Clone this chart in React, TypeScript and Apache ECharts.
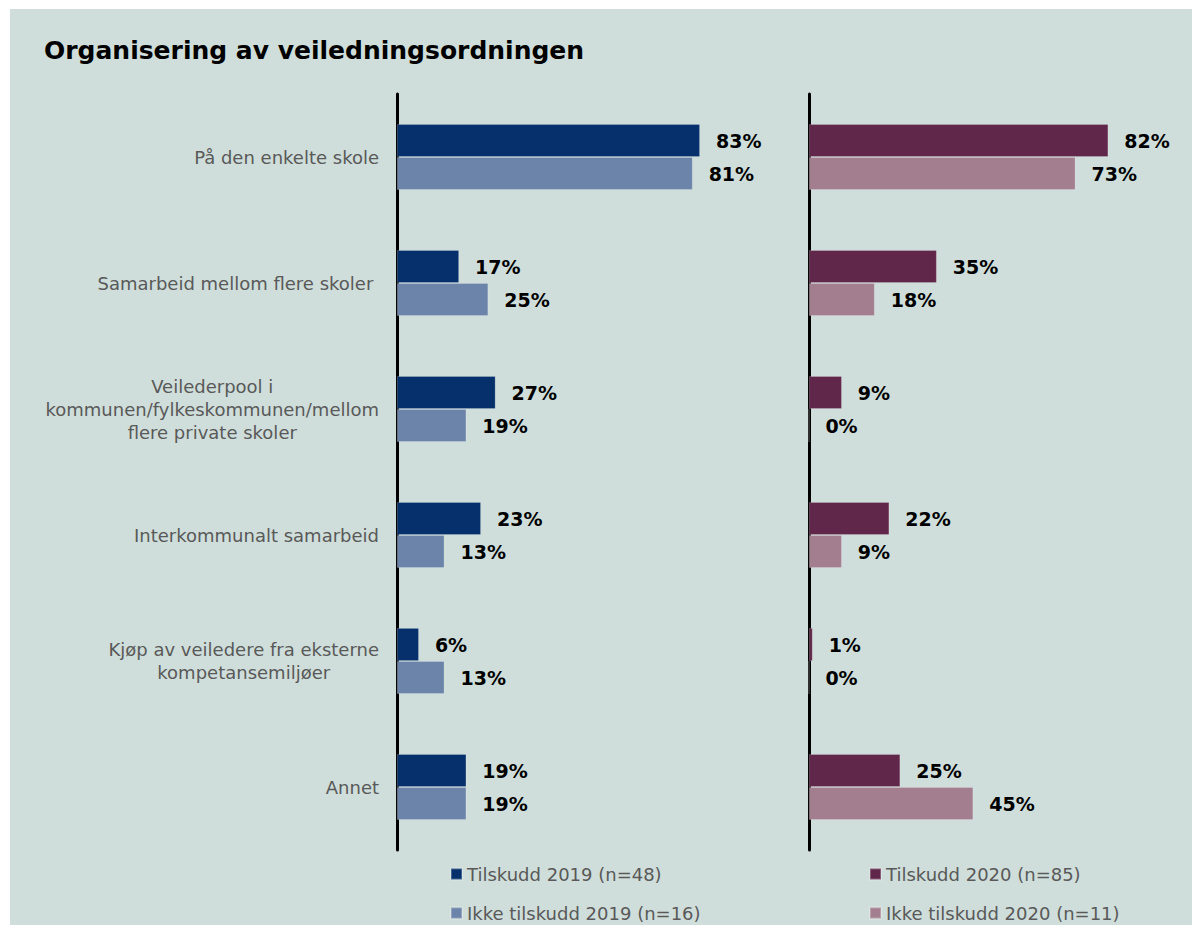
import React, { useEffect, useRef } from "react";
import * as echarts from "echarts";

const categories = [
  "På den enkelte skole",
  "Samarbeid mellom flere skoler ",
  "Veilederpool i\nkommunen/fylkeskommunen/mellom\nflere private skoler",
  "Interkommunalt samarbeid",
  "Kjøp av veiledere fra eksterne\nkompetansemiljøer",
  "Annet",
];
const tilskudd2019 = [83, 17, 27, 23, 6, 19];
const ikkeTilskudd2019 = [81, 25, 19, 13, 13, 19];
const tilskudd2020 = [82, 35, 9, 22, 1, 25];
const ikkeTilskudd2020 = [73, 18, 0, 9, 0, 45];
const seriesNames = [
  "Tilskudd 2019 (n=48)",
  "Ikke tilskudd 2019 (n=16)",
  "Tilskudd 2020 (n=85)",
  "Ikke tilskudd 2020 (n=11)",
];
const title = "Organisering av veiledningsordningen";

const FONT = 'Verdana, "DejaVu Sans", sans-serif';
const colors = ["#05306b", "#6c84a9", "#61274a", "#a27e8f"];

export default function App() {
  const ref = useRef<HTMLDivElement>(null);
  useEffect(() => {
    if (!ref.current) return;
    const chart = echarts.init(ref.current, undefined, { renderer: "svg" });
    const labelCfg = {
      show: true,
      position: "right",
      distance: 16,
      formatter: (p: any) => p.value + "%",
      color: "#000",
      fontFamily: FONT,
      fontWeight: "bold",
      fontSize: 19,
    };
    const mkSeries = (name: string, data: number[], idx: number, color: string) => ({
      name,
      type: "bar",
      xAxisIndex: idx,
      yAxisIndex: idx,
      data,
      barWidth: 33,
      barGap: "0%",
      itemStyle: { color, borderColor: "rgba(255,255,255,0.25)", borderWidth: 0.8 },
      label: labelCfg,
    });
    const yBase = {
      type: "category",
      data: categories,
      inverse: true,
      axisTick: { show: false },
      axisLine: { show: true, lineStyle: { color: "#000", width: 3 } },
      splitLine: { show: false },
    };
    const legendBase = {
      orient: "vertical",
      top: 865,
      height: 100,
      padding: 0,
      itemWidth: 11,
      itemHeight: 11,
      itemGap: 21,
      icon: "rect",
      textStyle: { color: "#595959", fontFamily: FONT, fontSize: 18 },
    };
    chart.setOption({
      animation: false,
      backgroundColor: "#ffffff",
      graphic: [
        {
          type: "rect",
          z: -10,
          silent: true,
          shape: { x: 10, y: 9, width: 1182, height: 916 },
          style: { fill: "#cfdeda" },
        },
      ],
      title: {
        text: title,
        left: 39,
        top: 33,
        textStyle: { fontFamily: FONT, fontWeight: "bold", fontSize: 25, color: "#000" },
      },
      grid: [
        { left: 397, top: 94, width: 365, height: 756 },
        { left: 809, top: 94, width: 365, height: 756 },
      ],
      xAxis: [
        { type: "value", gridIndex: 0, min: 0, max: 100, show: false },
        { type: "value", gridIndex: 1, min: 0, max: 100, show: false },
      ],
      yAxis: [
        {
          ...yBase,
          gridIndex: 0,
          axisLabel: {
            margin: 18,
            color: "#595959",
            fontFamily: FONT,
            fontSize: 18,
            lineHeight: 23,
            formatter: (v: string) =>
              v
                .split("\n")
                .map((l) => "{c|" + l + "}")
                .join("\n"),
            rich: {
              c: { align: "center", color: "#595959", fontFamily: FONT, fontSize: 18, lineHeight: 23 },
            },
          },
        },
        { ...yBase, gridIndex: 1, axisLabel: { show: false } },
      ],
      legend: [
        { ...legendBase, left: 450, data: [seriesNames[0], seriesNames[1]] },
        { ...legendBase, left: 869, data: [seriesNames[2], seriesNames[3]] },
      ],
      series: [
        mkSeries(seriesNames[0], tilskudd2019, 0, colors[0]),
        mkSeries(seriesNames[1], ikkeTilskudd2019, 0, colors[1]),
        mkSeries(seriesNames[2], tilskudd2020, 1, colors[2]),
        mkSeries(seriesNames[3], ikkeTilskudd2020, 1, colors[3]),
      ],
    });
    return () => chart.dispose();
  }, []);
  return (
    <div
      ref={ref}
      style={{ position: "fixed", left: 0, top: 0, width: 1192, height: 925 }}
    />
  );
}
